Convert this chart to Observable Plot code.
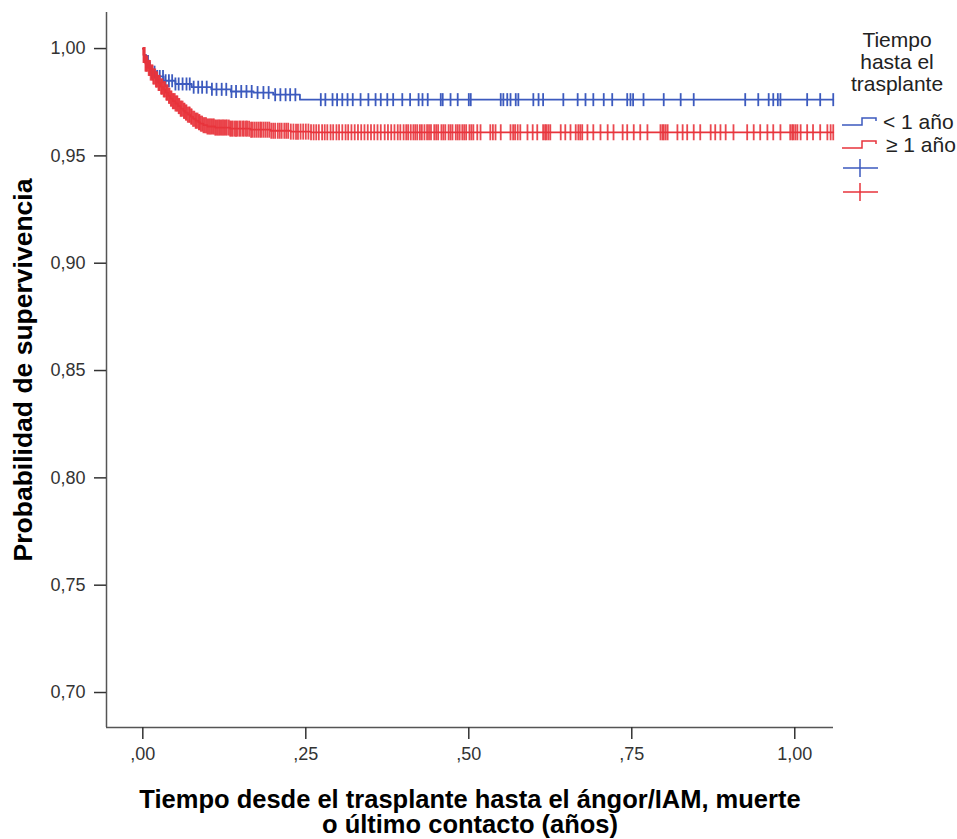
<!DOCTYPE html>
<html>
<head>
<meta charset="utf-8">
<script src="https://cdn.jsdelivr.net/npm/d3@7"></script>
<script src="https://cdn.jsdelivr.net/npm/@observablehq/plot@0.6"></script>
<style>
  body { margin: 0; background: #fff; }
  #chart { position: relative; width: 957px; height: 839px; font-family: "Liberation Sans", Arial, sans-serif; }
  #legend { position: absolute; left: 833px; top: 0; width: 124px; height: 220px; color: #222; font-size: 21px; }
  #legend .ttl { position: absolute; left: 0; width: 128px; text-align: center; line-height: 22px; }
  #legend .row { position: absolute; left: 9px; height: 22px; display: flex; align-items: center; white-space: nowrap; }
  #legend .row svg { display: block; }
</style>
</head>
<body>
<div id="chart"><div id="legend"></div></div>
<script>
// Kaplan–Meier survival by time to transplant
const groups = ["< 1 año", "≥ 1 año"];
const colors = ["#3c5abe", "#e8343c"];
const legendTitle = ["Tiempo", "hasta el", "trasplante"];

// Event times (years) and survival after each step; last entry = end of follow-up
const blueTimes = [0, 0.002, 0.005, 0.009, 0.014, 0.022, 0.032, 0.050, 0.075, 0.105, 0.135, 0.170, 0.200, 0.241, 1.059];
const blueSurv  = [1.000, 0.997, 0.994, 0.991, 0.989, 0.987, 0.985, 0.9835, 0.982, 0.981, 0.980, 0.9795, 0.9785, 0.9762, 0.9762];

const redTimes = [0, 0.001, 0.004, 0.008, 0.012, 0.016, 0.020, 0.024, 0.027, 0.031, 0.035, 0.039, 0.042, 0.046, 0.050,
  0.054, 0.058, 0.062, 0.065, 0.069, 0.073, 0.077, 0.081, 0.085, 0.088, 0.093, 0.099, 0.111, 0.134, 0.165, 0.196, 0.227, 0.258, 1.059];
const redSurv = [1.000, 0.997, 0.993, 0.991, 0.9888, 0.987, 0.9856, 0.984, 0.9823, 0.981, 0.9795, 0.978, 0.9767, 0.9755, 0.9744,
  0.9732, 0.972, 0.971, 0.9702, 0.9692, 0.9683, 0.9673, 0.9664, 0.9657, 0.965, 0.9643, 0.9637, 0.9632, 0.9627, 0.9622, 0.9617, 0.9613, 0.961, 0.961];

// Censored observations (years)
const blueCensor = [0.002, 0.005, 0.008, 0.011, 0.014, 0.018, 0.022, 0.026, 0.031, 0.035, 0.040, 0.045, 0.050, 0.055, 0.061,
  0.067, 0.072, 0.078, 0.085, 0.091, 0.098, 0.106, 0.113, 0.121, 0.128, 0.136, 0.143, 0.151, 0.159, 0.167, 0.176, 0.185,
  0.193, 0.203, 0.211, 0.219, 0.226, 0.234, 0.273, 0.280, 0.291, 0.298, 0.306, 0.314, 0.322, 0.334, 0.346, 0.357, 0.365,
  0.375, 0.384, 0.398, 0.410, 0.423, 0.429, 0.437, 0.457, 0.460, 0.472, 0.483, 0.500, 0.503, 0.549, 0.553, 0.559, 0.564,
  0.572, 0.576, 0.599, 0.607, 0.614, 0.645, 0.667, 0.679, 0.691, 0.707, 0.720, 0.743, 0.748, 0.752, 0.768, 0.799, 0.825,
  0.845, 0.924, 0.944, 0.960, 0.967, 0.974, 0.978, 1.019, 1.039, 1.059];

const redCensor = [0.001, 0.002, 0.003, 0.004, 0.005, 0.006, 0.007, 0.009, 0.010, 0.011, 0.012, 0.014, 0.015, 0.016, 0.017,
  0.019, 0.020, 0.021, 0.022, 0.024, 0.025, 0.026, 0.028, 0.029, 0.030, 0.032, 0.033, 0.034, 0.036, 0.037, 0.038, 0.040,
  0.041, 0.043, 0.044, 0.046, 0.047, 0.049, 0.050, 0.052, 0.053, 0.055, 0.056, 0.058, 0.059, 0.061, 0.063, 0.064, 0.066,
  0.067, 0.069, 0.071, 0.072, 0.074, 0.075, 0.077, 0.079, 0.081, 0.082, 0.084, 0.086, 0.087, 0.089, 0.091, 0.093, 0.095,
  0.097, 0.099, 0.101, 0.103, 0.105, 0.107, 0.109, 0.111, 0.113, 0.115, 0.117, 0.119, 0.121, 0.123, 0.125, 0.127, 0.129,
  0.132, 0.134, 0.136, 0.138, 0.141, 0.143, 0.145, 0.148, 0.150, 0.153, 0.155, 0.158, 0.160, 0.163, 0.166, 0.168, 0.171,
  0.174, 0.177, 0.180, 0.182, 0.185, 0.188, 0.191, 0.194, 0.197, 0.200, 0.203, 0.207, 0.210, 0.213, 0.217, 0.220, 0.223,
  0.227, 0.231, 0.235, 0.238, 0.242, 0.246, 0.250, 0.254, 0.258, 0.262, 0.266, 0.270, 0.275, 0.279, 0.283, 0.288, 0.292,
  0.297, 0.301, 0.306, 0.311, 0.315, 0.320, 0.325, 0.330, 0.335, 0.340, 0.345, 0.350, 0.355, 0.360, 0.365, 0.371, 0.376,
  0.381, 0.386, 0.391,
  0.395, 0.400, 0.404, 0.407, 0.411, 0.415, 0.418, 0.421, 0.425, 0.428, 0.432, 0.436, 0.439, 0.442, 0.447, 0.450, 0.453,
  0.458, 0.461, 0.464, 0.469, 0.472, 0.475, 0.480, 0.483, 0.486, 0.490, 0.493, 0.496, 0.501, 0.504, 0.507, 0.513, 0.518,
  0.533, 0.537, 0.541, 0.549, 0.564, 0.568, 0.571, 0.575, 0.579, 0.590, 0.598, 0.605, 0.614, 0.617, 0.619, 0.622, 0.625,
  0.641, 0.648, 0.656, 0.664, 0.668, 0.671, 0.674, 0.682, 0.691, 0.702, 0.713, 0.722, 0.736, 0.743, 0.753, 0.763, 0.774,
  0.794, 0.797, 0.799, 0.802, 0.805, 0.820, 0.828, 0.835, 0.845, 0.855, 0.871, 0.878, 0.886, 0.894, 0.906, 0.927, 0.937,
  0.947, 0.958, 0.967, 0.978, 0.993, 0.996, 0.998, 1.001, 1.004, 1.009, 1.019, 1.028, 1.039, 1.050, 1.055, 1.059];

// Axes
const yTicks = [0.70, 0.75, 0.80, 0.85, 0.90, 0.95, 1.00];
const yTickLabels = ["0,70", "0,75", "0,80", "0,85", "0,90", "0,95", "1,00"];
const xTicks = [0, 0.25, 0.50, 0.75, 1.00];
const xTickLabels = [",00", ",25", ",50", ",75", "1,00"];
const xDomain = [-0.0557, 1.0594];
const yDomain = [0.6837, 1.0168];
const xTitle = "Tiempo desde el trasplante hasta el ángor/IAM, muerte\no último contacto (años)";
const yTitle = "Probabilidad de supervivencia";

// Survival curve value at time t (right-continuous step function)
const stepFn = (times, surv) => t => surv[Math.max(0, d3.bisectRight(times, t) - 1)];
const blueAt = stepFn(blueTimes, blueSurv);
const redAt = stepFn(redTimes, redSurv);

const blueLine = blueTimes.map((t, i) => ({t, s: blueSurv[i]}));
const redLine = redTimes.map((t, i) => ({t, s: redSurv[i]}));
const blueMarks = blueCensor.map(t => ({t, s: blueAt(t)}));
const redMarks = redCensor.map(t => ({t, s: redAt(t)}));

// Vertical censor tick as a dot symbol
const censorTick = {
  draw(context, size) {
    const h = Math.sqrt(size / Math.PI);
    context.moveTo(0, -h);
    context.lineTo(0, h);
  }
};

const chart = Plot.plot({
  width: 957,
  height: 839,
  marginLeft: 106,
  marginRight: 124,
  marginTop: 12,
  marginBottom: 112,
  style: {fontFamily: "'Liberation Sans', Arial, sans-serif", background: "#fff", overflow: "visible"},
  x: {domain: xDomain},
  y: {domain: yDomain},
  marks: [
    Plot.ruleX([xDomain[0]], {stroke: "#555", strokeWidth: 1.5}),
    Plot.ruleY([yDomain[0]], {stroke: "#555", strokeWidth: 1.5}),
    Plot.axisY(yTicks, {tickSize: 12, tickPadding: 9, fontSize: 18, color: "#333", strokeWidth: 1.5, label: null,
      tickFormat: d => yTickLabels[yTicks.indexOf(d)]}),
    Plot.axisX(xTicks, {tickSize: 12, tickPadding: 8, fontSize: 18, color: "#333", strokeWidth: 1.5, label: null,
      tickFormat: d => xTickLabels[xTicks.indexOf(d)]}),
    Plot.line(blueLine, {x: "t", y: "s", curve: "step-after", stroke: colors[0], strokeWidth: 1.8}),
    Plot.line(redLine, {x: "t", y: "s", curve: "step-after", stroke: colors[1], strokeWidth: 1.8}),
    Plot.dot(blueMarks, {x: "t", y: "s", symbol: censorTick, r: 6.5, stroke: colors[0], strokeWidth: 1.8, fill: "none"}),
    Plot.dot(redMarks, {x: "t", y: "s", symbol: censorTick, r: 8, stroke: colors[1], strokeWidth: 1.8, strokeOpacity: 0.9, fill: "none"}),
    Plot.text([yTitle], {text: d => d, frameAnchor: "left", textAnchor: "middle", lineAnchor: "middle", rotate: -90, dx: -83,
      fontSize: 26.5, fontWeight: "bold", fill: "#000"}),
    Plot.text([xTitle], {text: d => d, frameAnchor: "bottom", textAnchor: "middle", lineAnchor: "middle", dy: 84.6,
      fontSize: 25.5, lineHeight: 1.0, fontWeight: "bold", fill: "#000"})
  ]
});
document.getElementById("chart").prepend(chart);

// Legend
const legend = document.getElementById("legend");
const ttl = document.createElement("div");
ttl.className = "ttl";
ttl.style.top = "29px";
ttl.innerHTML = legendTitle.join("<br>");
legend.appendChild(ttl);

const stepTops = [111, 134];
groups.forEach((g, i) => {
  const row = document.createElement("div");
  row.className = "row";
  row.style.top = stepTops[i] + "px";
  row.innerHTML = `<svg width="38" height="14"><path d="M0,10H20V3H34V6" fill="none" stroke="${colors[i]}" stroke-width="1.5"/></svg><span style="margin-left:${i ? 6 : 3}px">${g}</span>`;
  legend.appendChild(row);
});
const plusTops = [157, 181];
colors.forEach((c, i) => {
  const row = document.createElement("div");
  row.className = "row";
  row.style.top = plusTops[i] + "px";
  row.innerHTML = `<svg width="38" height="20"><path d="M1,10H36M18,1V19" fill="none" stroke="${c}" stroke-width="1.5"/></svg>`;
  legend.appendChild(row);
});
</script>
</body>
</html>
